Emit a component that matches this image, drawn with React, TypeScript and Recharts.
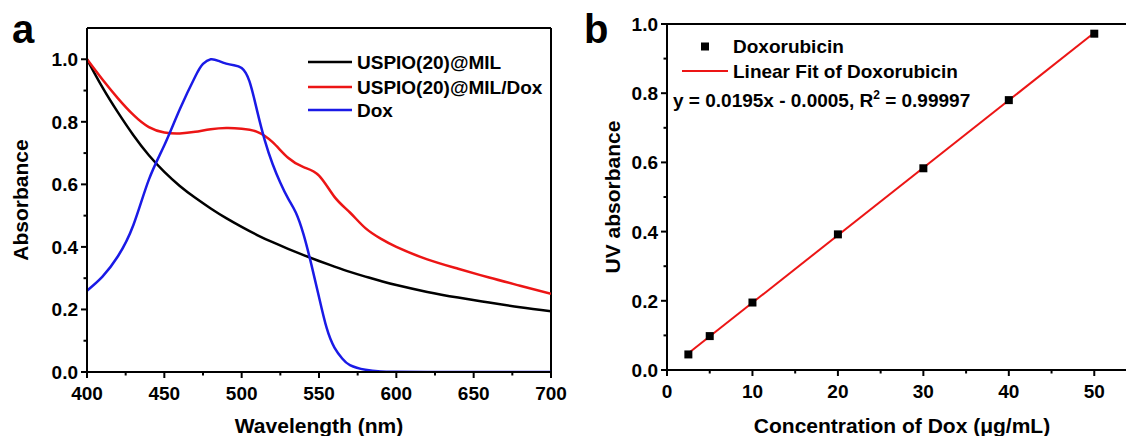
import React from 'react';
import { LineChart, Line, XAxis, YAxis, ComposedChart, Scatter, ReferenceLine } from 'recharts';

// ---------- Panel a: UV-vis spectra ----------
const wlBlack = [400, 410, 420, 430, 440, 450, 460, 470, 480, 490, 500, 510, 520, 530, 540, 550, 560, 570, 580, 590, 600, 620, 640, 660, 680, 700];
const absBlack = [1.0, 0.91, 0.83, 0.757, 0.693, 0.64, 0.595, 0.557, 0.523, 0.492, 0.464, 0.438, 0.415, 0.394, 0.374, 0.355, 0.337, 0.32, 0.305, 0.291, 0.278, 0.256, 0.238, 0.222, 0.207, 0.194];

const wlRed = [400, 410, 420, 430, 440, 450, 460, 470, 480, 490, 500, 510, 520, 530, 540, 550, 560, 570, 580, 590, 600, 620, 640, 660, 680, 700];
const absRed = [1.0, 0.935, 0.875, 0.822, 0.783, 0.766, 0.763, 0.768, 0.776, 0.78, 0.778, 0.768, 0.735, 0.685, 0.655, 0.628, 0.56, 0.51, 0.46, 0.426, 0.4, 0.36, 0.33, 0.302, 0.276, 0.25];

const wlBlue = [400, 410, 420, 430, 440, 450, 460, 470, 475, 480, 485, 490, 495, 500, 505, 510, 515, 520, 525, 530, 535, 540, 545, 550, 555, 560, 565, 570, 580, 590, 600, 620, 650, 700];
const absBlue = [0.26, 0.305, 0.37, 0.47, 0.615, 0.725, 0.84, 0.945, 0.985, 1.0, 0.995, 0.986, 0.981, 0.972, 0.93, 0.835, 0.74, 0.665, 0.605, 0.555, 0.51, 0.44, 0.345, 0.24, 0.14, 0.078, 0.043, 0.022, 0.007, 0.002, 0.001, 0.0, 0.0, 0.0];

const seriesA = [
  { name: 'USPIO(20)@MIL', color: '#000000', x: wlBlack, y: absBlack },
  { name: 'USPIO(20)@MIL/Dox', color: '#ec1515', x: wlRed, y: absRed },
  { name: 'Dox', color: '#1a1ae6', x: wlBlue, y: absBlue },
];

const xTicksA = [400, 425, 450, 475, 500, 525, 550, 575, 600, 625, 650, 675, 700];
const xMajorA = [400, 450, 500, 550, 600, 650, 700];
const yTicksA = [0, 0.1, 0.2, 0.3, 0.4, 0.5, 0.6, 0.7, 0.8, 0.9, 1.0];
const yMajorA = [0, 0.2, 0.4, 0.6, 0.8, 1.0];

// ---------- Panel b: calibration ----------
const concDox = [2.5, 5, 10, 20, 30, 40, 50];
const uvAbs = [0.045, 0.098, 0.195, 0.392, 0.583, 0.78, 0.972];
const fitX = [2.5, 50];
const fitY = [0.04825, 0.9745];

const xTicksB = [0, 5, 10, 15, 20, 25, 30, 35, 40, 45, 50, 55];
const xMajorB = [0, 10, 20, 30, 40, 50];
const yTicksB = [0, 0.1, 0.2, 0.3, 0.4, 0.5, 0.6, 0.7, 0.8, 0.9, 1.0];
const yMajorB = [0, 0.2, 0.4, 0.6, 0.8, 1.0];

const FONT = '"Liberation Sans", Arial, sans-serif';
const TICK_FS = 19;

const near = (arr: number[], v: number) => arr.some((a) => Math.abs(a - v) < 1e-6);

const makeXTick = (major: number[], fmt: (v: number) => string) => (props: any) => {
  const { x, y, payload } = props;
  const isMajor = near(major, payload.value);
  return (
    <g>
      <line x1={x} x2={x} y1={y} y2={y + (isMajor ? 6 : 3.5)} stroke="#000" strokeWidth={2} />
      {isMajor && (
        <text x={x} y={y + 28} textAnchor="middle" fontFamily={FONT} fontWeight="bold" fontSize={TICK_FS} fill="#000">
          {fmt(payload.value)}
        </text>
      )}
    </g>
  );
};

const makeYTick = (major: number[], fmt: (v: number) => string) => (props: any) => {
  const { x, y, payload } = props;
  const isMajor = near(major, payload.value);
  return (
    <g>
      <line x1={x - (isMajor ? 6 : 3.5)} x2={x} y1={y} y2={y} stroke="#000" strokeWidth={2} />
      {isMajor && (
        <text x={x - 9} y={y + 7} textAnchor="end" fontFamily={FONT} fontWeight="bold" fontSize={TICK_FS} fill="#000">
          {fmt(payload.value)}
        </text>
      )}
    </g>
  );
};

const axisLine = { stroke: '#000', strokeWidth: 2 };

function PanelA() {
  return (
    <LineChart width={580} height={436} margin={{ top: 28, right: 29, bottom: 0, left: 0 }}>
      <XAxis
        type="number"
        dataKey="x"
        domain={[400, 700]}
        ticks={xTicksA}
        interval={0}
        height={64}
        tickSize={0}
        tickMargin={0}
        tickLine={false}
        axisLine={axisLine}
        tick={makeXTick(xMajorA, (v) => String(v))}
        allowDataOverflow
      />
      <YAxis
        type="number"
        domain={[0, 1.1]}
        ticks={yTicksA}
        interval={0}
        width={87}
        tickSize={0}
        tickMargin={0}
        tickLine={false}
        axisLine={axisLine}
        tick={makeYTick(yMajorA, (v) => v.toFixed(1))}
        allowDataOverflow
      />
      <ReferenceLine y={1.1} stroke="#000" strokeWidth={2} />
      <ReferenceLine x={700} stroke="#000" strokeWidth={2} />
      {seriesA.map((s) => (
        <Line
          key={s.name}
          name={s.name}
          data={s.x.map((xv, i) => ({ x: xv, y: s.y[i] }))}
          dataKey="y"
          type="natural"
          stroke={s.color}
          strokeWidth={2.5}
          dot={false}
          isAnimationActive={false}
        />
      ))}
    </LineChart>
  );
}

function PanelB() {
  const pts = concDox.map((c, i) => ({ x: c, y: uvAbs[i] }));
  const fit = fitX.map((c, i) => ({ x: c, y: fitY[i] }));
  return (
    <ComposedChart width={567} height={436} margin={{ top: 24, right: 10, bottom: 0, left: 0 }}>
      <XAxis
        type="number"
        dataKey="x"
        domain={[0, 55]}
        ticks={xTicksB}
        interval={0}
        height={66}
        tickSize={0}
        tickMargin={0}
        tickLine={false}
        axisLine={axisLine}
        tick={makeXTick(xMajorB, (v) => String(v))}
        allowDataOverflow
      />
      <YAxis
        type="number"
        domain={[0, 1]}
        ticks={yTicksB}
        interval={0}
        width={87}
        tickSize={0}
        tickMargin={0}
        tickLine={false}
        axisLine={axisLine}
        tick={makeYTick(yMajorB, (v) => v.toFixed(1))}
        allowDataOverflow
      />
      <ReferenceLine y={1} stroke="#000" strokeWidth={2} />
      <ReferenceLine x={55} stroke="#000" strokeWidth={2} />
      <Line
        name="Linear Fit of Doxorubicin"
        data={fit}
        dataKey="y"
        type="linear"
        stroke="#ec1515"
        strokeWidth={2}
        dot={false}
        isAnimationActive={false}
      />
      <Scatter name="Doxorubicin" data={pts} dataKey="y" shape="square" fill="#000" isAnimationActive={false} />
    </ComposedChart>
  );
}

function Overlay() {
  const t = { fontFamily: FONT, fontWeight: 'bold' as const, fill: '#000' };
  return (
    <svg width={1126} height={436} style={{ position: 'absolute', left: 0, top: 0, pointerEvents: 'none' }}>
      {/* panel labels */}
      <text x={12} y={43} fontSize={40} {...t}>a</text>
      <text x={584} y={43} fontSize={40} {...t}>b</text>

      {/* legend a */}
      {seriesA.map((s, i) => {
        const cy = [62, 87, 110][i];
        return (
          <g key={s.name}>
            <line x1={308} x2={352} y1={cy} y2={cy} stroke={s.color} strokeWidth={2.5} />
            <text x={357} y={cy + 7} fontSize={19} {...t}>{s.name}</text>
          </g>
        );
      })}

      {/* legend b */}
      <rect x={701} y={42.5} width={8} height={8} fill="#000" />
      <text x={733} y={53} fontSize={19} {...t}>Doxorubicin</text>
      <line x1={682} x2={728} y1={71} y2={71} stroke="#ec1515" strokeWidth={2} />
      <text x={733} y={78} fontSize={19} {...t}>Linear Fit of Doxorubicin</text>
      <text x={673} y={107} fontSize={19} {...t}>
        y = 0.0195x - 0.0005, R<tspan dy={-8} fontSize={12}>2</tspan><tspan dy={8}> = 0.99997</tspan>
      </text>

      {/* axis titles */}
      <text x={319} y={433} fontSize={21} textAnchor="middle" {...t}>Wavelength (nm)</text>
      <text x={902} y={433} fontSize={21} textAnchor="middle" {...t}>Concentration of Dox (μg/mL)</text>
      <text x={28} y={200} fontSize={21} textAnchor="middle" transform="rotate(-90 28 200)" {...t}>Absorbance</text>
      <text x={620} y={197} fontSize={21} textAnchor="middle" transform="rotate(-90 620 197)" {...t}>UV absorbance</text>
    </svg>
  );
}

export default function App() {
  return (
    <div style={{ position: 'absolute', left: 0, top: 0, width: 1126, height: 436, overflow: 'hidden', background: '#fff' }}>
      <div style={{ position: 'absolute', left: 0, top: 0 }}>
        <PanelA />
      </div>
      <div style={{ position: 'absolute', left: 580, top: 0 }}>
        <PanelB />
      </div>
      <Overlay />
    </div>
  );
}
